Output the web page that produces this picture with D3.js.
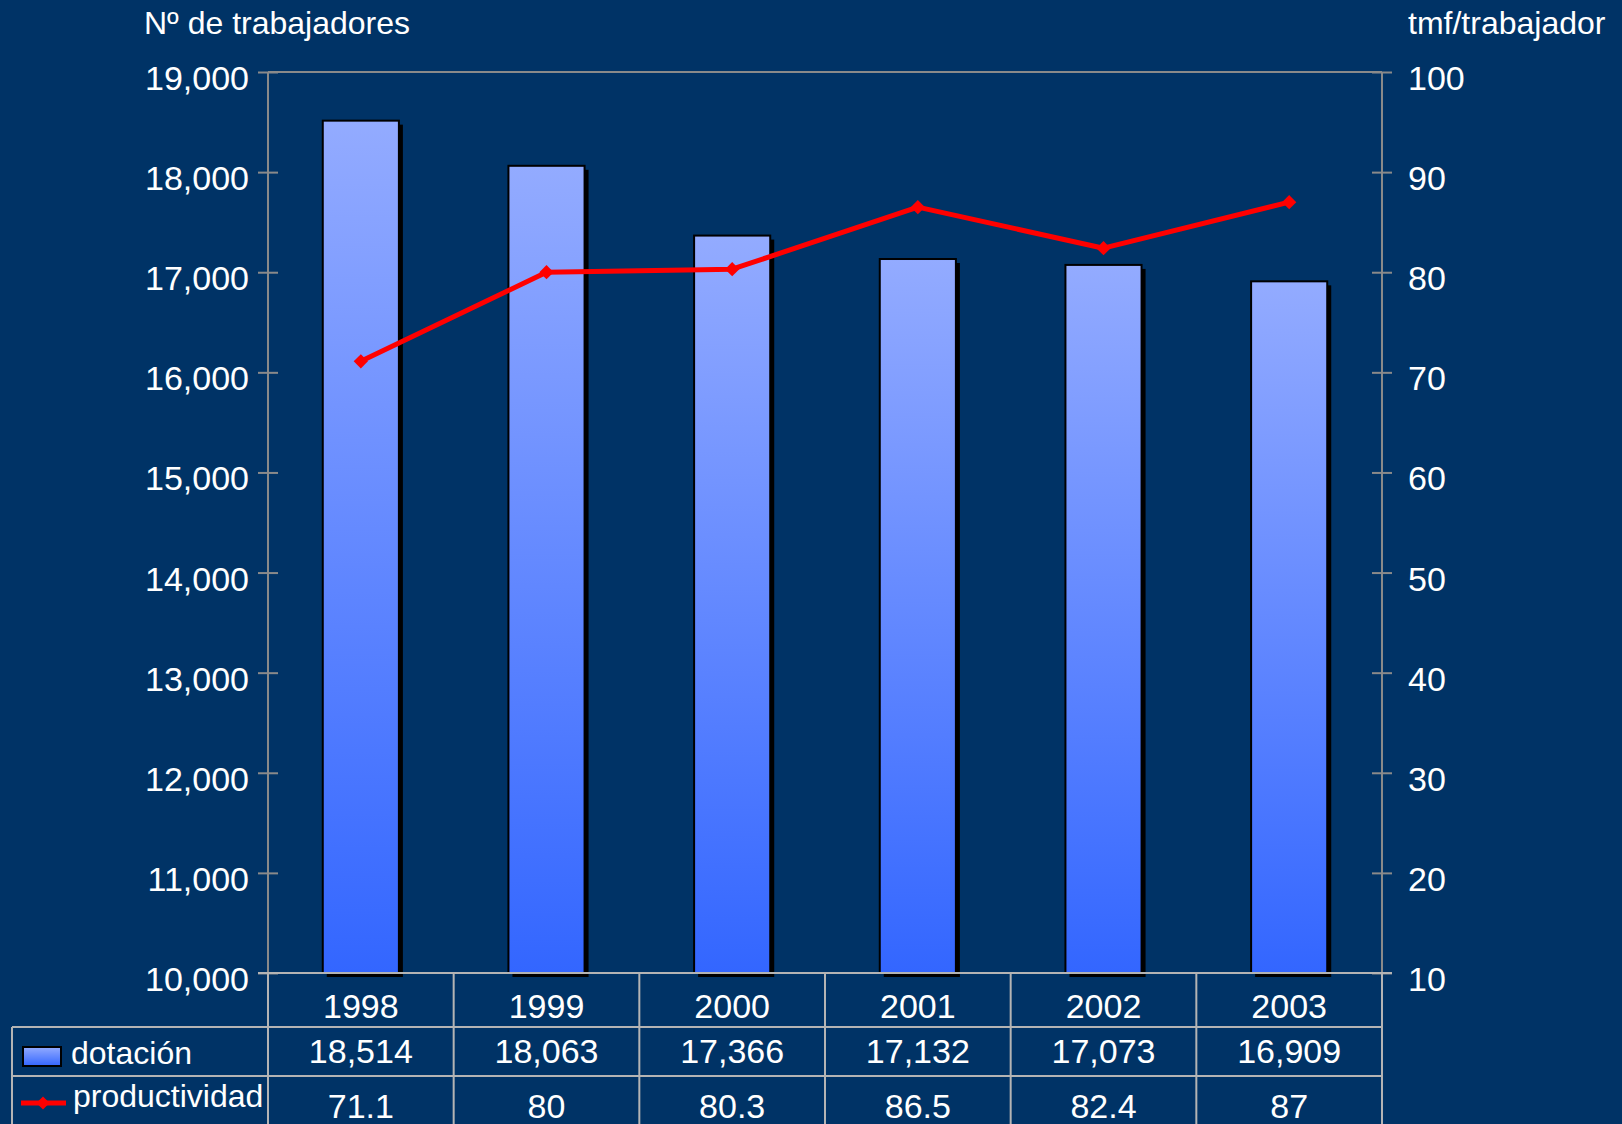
<!DOCTYPE html>
<html><head><meta charset="utf-8">
<script src="https://cdn.jsdelivr.net/npm/d3@7"></script>
<style>html,body{margin:0;padding:0;background:#003366;}svg{display:block;}</style>
</head><body>
<script>
const categories = ["1998","1999","2000","2001","2002","2003"];
const dotacion = [18514,18063,17366,17132,17073,16909];
const productividad = [71.1,80,80.3,86.5,82.4,87];
const leftTicks = [10000,11000,12000,13000,14000,15000,16000,17000,18000,19000];
const rightTicks = [10,20,30,40,50,60,70,80,90,100];
const dotacionLabels = ["18,514","18,063","17,366","17,132","17,073","16,909"];
const productividadLabels = ["71.1","80","80.3","86.5","82.4","87"];

const W = 1622, H = 1124;
const L = 268, R = 1382, T = 72, B = 973;
const font = "'Liberation Sans', Arial, sans-serif";

const svg = d3.select("body").append("svg").attr("width", W).attr("height", H);
svg.append("rect").attr("width", W).attr("height", H).attr("fill", "#003366");

const defs = svg.append("defs");
const g = defs.append("linearGradient").attr("id","barGrad").attr("x1",0).attr("y1",0).attr("x2",0).attr("y2",1);
g.append("stop").attr("offset","0%").attr("stop-color","#93ABFF");
g.append("stop").attr("offset","100%").attr("stop-color","#3366FF");

const x = d3.scaleBand().domain(categories).range([L, R]).padding(0);
const yL = d3.scaleLinear().domain([10000,19000]).range([B, T]);
const yR = d3.scaleLinear().domain([10,100]).range([B, T]);
const bw = x.bandwidth() * 0.41;

// bars
const bars = svg.append("g");
bars.selectAll("rect.shadow").data(categories).join("rect")
  .attr("x", (d,i) => x(d) + x.bandwidth()/2 - bw/2 + 4)
  .attr("y", (d,i) => yL(dotacion[i]) + 4)
  .attr("width", bw).attr("height", (d,i) => B - yL(dotacion[i]))
  .attr("fill", "#000");
bars.selectAll("rect.bar").data(categories).join("rect")
  .attr("x", (d,i) => x(d) + x.bandwidth()/2 - bw/2)
  .attr("y", (d,i) => yL(dotacion[i]))
  .attr("width", bw).attr("height", (d,i) => B - yL(dotacion[i]))
  .attr("fill", "url(#barGrad)").attr("stroke", "#000").attr("stroke-width", 2);

// axes
const axisColor = "#8a8a8a";
const leftAxis = svg.append("g").attr("transform", `translate(${L},0)`)
  .call(d3.axisLeft(yL).tickValues(leftTicks).tickSize(0).tickFormat(d3.format(",")));
leftAxis.select(".domain").remove();
leftAxis.selectAll(".tick text").attr("x", -19).attr("dy", "0.72em").attr("y", -7)
  .attr("fill", "#fff").style("font-family", font).style("font-size", "34px");
leftAxis.selectAll(".tick").append("line").attr("x1", -10).attr("x2", 10)
  .attr("stroke", axisColor).attr("stroke-width", 2);

const rightAxis = svg.append("g").attr("transform", `translate(${R},0)`)
  .call(d3.axisRight(yR).tickValues(rightTicks).tickSize(0));
rightAxis.select(".domain").remove();
rightAxis.selectAll(".tick text").attr("x", 26).attr("dy", "0.72em").attr("y", -7)
  .attr("fill", "#fff").style("font-family", font).style("font-size", "34px");
rightAxis.selectAll(".tick").append("line").attr("x1", -10).attr("x2", 10)
  .attr("stroke", axisColor).attr("stroke-width", 2);

svg.append("line").attr("x1", L).attr("x2", L).attr("y1", T).attr("y2", B).attr("stroke", axisColor).attr("stroke-width", 2);
svg.append("line").attr("x1", R).attr("x2", R).attr("y1", T).attr("y2", B).attr("stroke", axisColor).attr("stroke-width", 2);
svg.append("line").attr("x1", L).attr("x2", R).attr("y1", T).attr("y2", T).attr("stroke", axisColor).attr("stroke-width", 2);

// axis titles
svg.append("text").attr("x", 144).attr("y", 34).text("Nº de trabajadores")
  .attr("fill", "#fff").style("font-family", font).style("font-size", "32px");
svg.append("text").attr("x", 1408).attr("y", 34).text("tmf/trabajador")
  .attr("fill", "#fff").style("font-family", font).style("font-size", "32px");

// line series
const line = d3.line().x((d,i) => x(categories[i]) + x.bandwidth()/2).y(d => yR(d));
svg.append("path").datum(productividad).attr("d", line)
  .attr("fill", "none").attr("stroke", "#ff0000").attr("stroke-width", 5).attr("stroke-linejoin", "round");
svg.selectAll("path.mk").data(productividad).join("path")
  .attr("d", d3.symbol(d3.symbolDiamond2, 130)())
  .attr("transform", (d,i) => `translate(${x(categories[i]) + x.bandwidth()/2},${yR(d)})`)
  .attr("fill", "#ff0000");

// data table
const tblColor = "#b4b4b4";
const rowY = [B, 1027, 1076, H];
const tbl = svg.append("g").attr("stroke", tblColor).attr("stroke-width", 2);
// bottom axis line (extends to right tick)
svg.append("line").attr("x1", L - 10).attr("x2", R + 10).attr("y1", B).attr("y2", B).attr("stroke", tblColor).attr("stroke-width", 2);
tbl.append("line").attr("x1", 12).attr("x2", R).attr("y1", rowY[1]).attr("y2", rowY[1]);
tbl.append("line").attr("x1", 12).attr("x2", R).attr("y1", rowY[2]).attr("y2", rowY[2]);
tbl.append("line").attr("x1", 12).attr("x2", 12).attr("y1", rowY[1]).attr("y2", H);
tbl.selectAll("line.v").data(categories.concat(["end"])).join("line")
  .attr("x1", (d,i) => i < categories.length ? x(d) : R)
  .attr("x2", (d,i) => i < categories.length ? x(d) : R)
  .attr("y1", B).attr("y2", H);

const txt = (sel) => sel.attr("fill", "#fff").attr("text-anchor", "middle").style("font-family", font).style("font-size", "34px");
svg.selectAll("text.cat").data(categories).join("text")
  .attr("x", d => x(d) + x.bandwidth()/2).attr("y", 1018).text(d => d).call(txt);
svg.selectAll("text.dot").data(dotacionLabels).join("text")
  .attr("x", (d,i) => x(categories[i]) + x.bandwidth()/2).attr("y", 1063).text(d => d).call(txt);
svg.selectAll("text.prod").data(productividadLabels).join("text")
  .attr("x", (d,i) => x(categories[i]) + x.bandwidth()/2).attr("y", 1118).text(d => d).call(txt);

// legend
svg.append("rect").attr("x", 23).attr("y", 1047).attr("width", 38).attr("height", 19)
  .attr("fill", "url(#barGrad)").attr("stroke", "#000").attr("stroke-width", 2);
svg.append("text").attr("x", 71).attr("y", 1064).text("dotación")
  .attr("fill", "#fff").style("font-family", font).style("font-size", "32px");
svg.append("line").attr("x1", 21).attr("x2", 66).attr("y1", 1103).attr("y2", 1103)
  .attr("stroke", "#ff0000").attr("stroke-width", 5);
svg.append("path").attr("d", d3.symbol(d3.symbolDiamond2, 110)())
  .attr("transform", "translate(43,1103)").attr("fill", "#ff0000");
svg.append("text").attr("x", 73).attr("y", 1107).text("productividad")
  .attr("fill", "#fff").style("font-family", font).style("font-size", "32px");
</script>
</body></html>
